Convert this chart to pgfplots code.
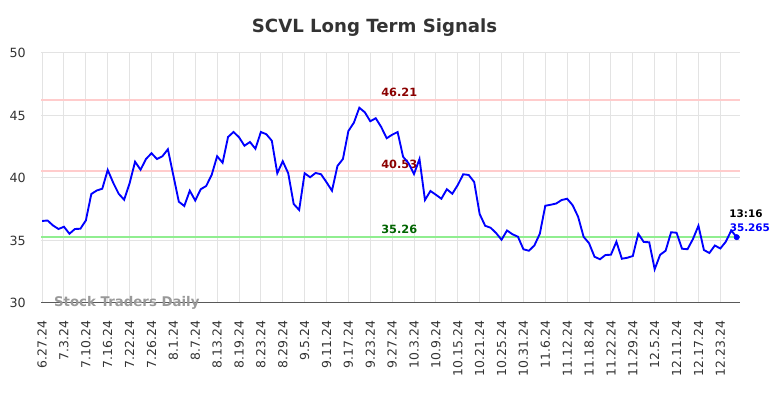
\documentclass[border=0pt]{standalone}
\usepackage{pgfplots}
\pgfplotsset{compat=1.18}
\usepackage{pgfplotstable}
\usepackage{fontspec}
\setmainfont{DejaVu Sans}
\definecolor{titlegray}{HTML}{333333}
\definecolor{sigred}{HTML}{FFCCCC}
\definecolor{siggreen}{HTML}{90EE90}
\definecolor{lblred}{HTML}{8B0000}
\definecolor{lblgreen}{HTML}{006400}
\definecolor{gridgray}{HTML}{E3E3E3}
\pgfplotstableread{
i v
0 36.56
1 36.60
2 36.20
3 35.92
4 36.10
5 35.54
6 35.92
7 35.94
8 36.60
9 38.72
10 39.00
11 39.14
12 40.64
13 39.62
14 38.74
15 38.26
16 39.58
17 41.30
18 40.66
19 41.52
20 41.98
21 41.52
22 41.74
23 42.30
24 40.20
25 38.10
26 37.76
27 38.98
28 38.20
29 39.10
30 39.36
31 40.24
32 41.74
33 41.22
34 43.28
35 43.68
36 43.26
37 42.58
38 42.88
39 42.34
40 43.68
41 43.50
42 42.98
43 40.38
44 41.34
45 40.38
46 37.92
47 37.44
48 40.38
49 40.06
50 40.40
51 40.30
52 39.66
53 38.98
54 40.96
55 41.52
56 43.76
57 44.42
58 45.62
59 45.26
60 44.54
61 44.78
62 44.08
63 43.18
64 43.46
65 43.68
66 41.70
67 41.18
68 40.32
69 41.52
70 38.24
71 38.96
72 38.66
73 38.34
74 39.10
75 38.74
76 39.44
77 40.30
78 40.24
79 39.68
80 37.12
81 36.18
82 36.02
83 35.60
84 35.06
85 35.80
86 35.50
87 35.30
88 34.30
89 34.18
90 34.60
91 35.54
92 37.78
93 37.86
94 37.96
95 38.24
96 38.34
97 37.82
98 36.90
99 35.30
100 34.78
101 33.70
102 33.50
103 33.84
104 33.86
105 34.90
106 33.54
107 33.62
108 33.76
109 35.54
110 34.88
111 34.86
112 32.70
113 33.86
114 34.18
115 35.66
116 35.62
117 34.34
118 34.30
119 35.12
120 36.18
121 34.24
122 34.00
123 34.60
124 34.36
125 34.90
126 35.80
127 35.265
}\prices
\begin{document}
\begin{tikzpicture}
\useasboundingbox (0,0) rectangle (588pt,298.5pt);
\node[font=\fontsize{13.6}{16}\selectfont\bfseries, text=titlegray] at (280.9pt,278pt) {SCVL Long Term Signals};
\begin{axis}[
  at={(30.75pt,71.25pt)}, anchor=south west,
  scale only axis, width=524.25pt, height=187.5pt,
  xmin=-0.2, xmax=127.6, ymin=30, ymax=50,
  xtick={0,4,...,124},
  xticklabels={6.27.24,7.3.24,7.10.24,7.16.24,7.22.24,7.26.24,8.1.24,8.7.24,8.13.24,8.19.24,8.23.24,8.29.24,9.5.24,9.11.24,9.17.24,9.23.24,9.27.24,10.3.24,10.9.24,10.15.24,10.21.24,10.25.24,10.31.24,11.6.24,11.12.24,11.18.24,11.22.24,11.29.24,12.5.24,12.11.24,12.17.24,12.23.24},
  ytick={30,35,40,45,50},
  /pgf/number format/assume math mode=true,
  xticklabel style={rotate=90, anchor=east, font=\fontsize{9.3}{11}\selectfont, text=titlegray, xshift=-10pt},
  yticklabel style={font=\fontsize{9.5}{11}\selectfont, text=titlegray, xshift=-8pt},
  major tick length=0pt,
  grid=major,
  major grid style={draw=gridgray, line width=0.75pt},
  axis x line*=bottom, axis y line*=left,
  y axis line style={draw=none},
  x axis line style={draw=black!65, line width=0.75pt},
  clip=false,
]
\addplot[sigred, line width=1.5pt] coordinates {(-0.2,46.21) (127.6,46.21)};
\addplot[sigred, line width=1.5pt] coordinates {(-0.2,40.53) (127.6,40.53)};
\addplot[siggreen, line width=1.5pt] coordinates {(-0.2,35.26) (127.6,35.26)};
\node[font=\fontsize{8.5}{10}\selectfont\bfseries, text=lblred] at (axis cs:65.3,46.21) [yshift=5.8pt] {46.21};
\node[font=\fontsize{8.5}{10}\selectfont\bfseries, text=lblred] at (axis cs:65.3,40.53) [yshift=5.6pt] {40.53};
\node[font=\fontsize{8.5}{10}\selectfont\bfseries, text=lblgreen] at (axis cs:65.3,35.26) [yshift=6pt] {35.26};
\node[font=\fontsize{10}{12}\selectfont\bfseries, text=black!40, anchor=west] at (rel axis cs:0.012,0) {Stock Traders Daily};
\addplot[blue, line width=1.4pt] table[x=i, y=v] {\prices};
\addplot[blue, only marks, mark=*, mark size=2pt] coordinates {(127,35.265)};
\node[font=\fontsize{7.8}{9}\selectfont\bfseries, text=black] at (axis cs:128.7,37.16) {13:16};
\node[font=\fontsize{7.8}{9}\selectfont\bfseries, text=blue] at (axis cs:129.4,36.0) {35.265};
\end{axis}
\end{tikzpicture}
\end{document}
